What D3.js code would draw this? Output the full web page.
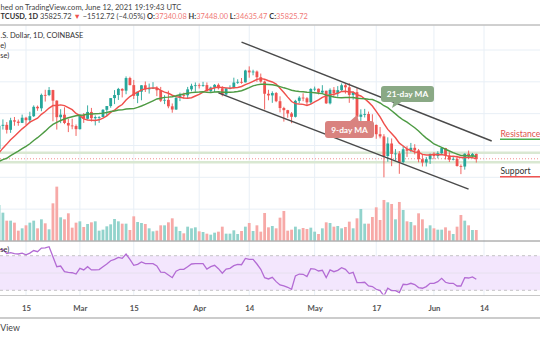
<!DOCTYPE html>
<html><head><meta charset="utf-8">
<script src="https://cdn.jsdelivr.net/npm/d3@7/dist/d3.min.js"></script>
<style>body{margin:0;background:#fff;overflow:hidden}svg{display:block}</style>
</head><body>
<svg id="c" width="540" height="340"></svg>
<script>
// ---------------- DATA ----------------
const dates = [
"02-08","02-09","02-10","02-11","02-12","02-13","02-14","02-15","02-16","02-17","02-18","02-19","02-20","02-21","02-22","02-23","02-24","02-25","02-26","02-27","02-28",
"03-01","03-02","03-03","03-04","03-05","03-06","03-07","03-08","03-09","03-10","03-11","03-12","03-13","03-14","03-15","03-16","03-17","03-18","03-19","03-20","03-21","03-22","03-23","03-24","03-25","03-26","03-27","03-28","03-29","03-30","03-31",
"04-01","04-02","04-03","04-04","04-05","04-06","04-07","04-08","04-09","04-10","04-11","04-12","04-13","04-14","04-15","04-16","04-17","04-18","04-19","04-20","04-21","04-22","04-23","04-24","04-25","04-26","04-27","04-28","04-29","04-30",
"05-01","05-02","05-03","05-04","05-05","05-06","05-07","05-08","05-09","05-10","05-11","05-12","05-13","05-14","05-15","05-16","05-17","05-18","05-19","05-20","05-21","05-22","05-23","05-24","05-25","05-26","05-27","05-28","05-29","05-30","05-31",
"06-01","06-02","06-03","06-04","06-05","06-06","06-07","06-08","06-09","06-10","06-11","06-12"];
const openP = [
38900,46196,46481,44918,47909,47504,47105,48717,47945,49199,52149,51679,55888,55841,57412,54087,48891,49676,47073,46276,46106,
45135,49631,48378,50538,48561,48927,48950,51207,52385,54884,55851,57773,57221,61188,58968,55605,56900,58912,57648,58030,58102,57351,54083,54340,52303,51293,55025,55817,55777,57635,58747,
58918,58726,58980,57059,58206,59054,57967,56031,57968,58079,59772,59984,59845,63554,62969,63229,61451,60069,56250,55725,56473,53907,51762,51094,50050,49005,54021,55033,54824,53556,
57750,57828,56631,57200,53241,57473,56428,57380,58928,58280,55883,56750,49007,49716,49880,46760,46456,43538,42850,36690,40627,37340,37484,34770,38806,38350,39266,38445,35689,34647,35684,
37310,36693,37568,39188,36856,35520,35796,33552,33380,37389,36693,37340.08];
const highP = [
46800,48200,47350,48700,48950,48150,49700,49000,50600,52600,52550,56300,57500,58352,57500,54200,51400,52000,48400,48400,46600,
49800,50200,52600,51800,49450,49200,51450,52400,54900,57400,58100,58000,61700,61600,60600,56900,58950,60100,59450,59900,58600,58400,55800,57200,53200,55100,56600,56600,58400,59400,59800,
59500,60000,59800,58500,59300,59500,58650,58100,58900,61300,60800,61200,63800,64854,63800,63550,62600,60400,57500,57000,56800,55450,52150,51200,50500,54350,55500,56400,55200,58000,
58500,57900,58950,57200,57950,58350,58650,59500,59300,59600,56900,58000,51350,51500,50650,49800,46600,45800,43550,42550,42200,38850,38250,39900,39800,40800,40400,38900,37300,36400,37500,
37900,38200,39500,39250,37900,36450,36800,34050,37550,38400,37650,37448.00];
const lowP = [
37988,45000,43750,43960,46200,46200,47050,46300,47020,48950,50900,50750,53800,55500,47600,45000,47000,46700,44200,45100,43000,
45000,47100,48100,47500,46300,47100,48900,49300,51850,53000,54300,55100,56100,58900,54600,53300,54200,56800,56300,57800,55500,53650,53000,51700,50300,51200,53950,54700,54900,57000,56900,
57900,58450,56900,56500,56800,57600,55450,55700,57650,57900,59350,59400,59800,61300,62050,60000,59700,51300,54200,53400,53600,50400,47500,48700,47000,48800,53300,53900,52400,53050,
57050,56050,56450,53050,52900,55250,55300,56950,56300,53400,54400,48600,46000,48800,46600,43800,42100,42250,30000,34900,33500,35300,31100,34400,36400,37900,37200,34700,33400,33400,34200,
35700,35950,37200,35600,34800,35300,33350,31000,32400,35800,35950,34635.47];
const closeP = [
46196,46481,44918,47909,47504,47105,48717,47945,49199,52149,51679,55888,55841,57412,54087,48891,49676,47073,46276,46106,45135,
49631,48378,50538,48561,48927,48950,51207,52385,54884,55851,57773,57221,61188,58968,55605,56900,58912,57648,58030,58102,57351,54083,54340,52303,51293,55025,55817,55777,57635,58747,58918,
58726,58980,57059,58206,59054,57967,56031,57968,58079,59772,59984,59845,63554,62969,63229,61451,60069,56250,55725,56473,53907,51762,51094,50050,49005,54021,55033,54824,53556,57750,
57828,56631,57200,53241,57473,56428,57380,58928,58280,55883,56750,49007,49716,49880,46760,46456,43538,42850,36690,40627,37340,37484,34770,38806,38350,39266,38445,35689,34647,35684,37310,
36693,37568,39188,36856,35520,35796,33552,33380,37389,36693,37340.08,35825.72];
// closes of the 20 sessions before the first visible candle (needed for the moving averages)
const priorCloses = [35830,35480,30830,33000,32080,32270,32260,32500,30400,33400,34300,34300,33110,33540,35510,37470,36930,38140,39270,38900];
const volume = [
32400,25500,18300,18300,16500,9300,11400,14100,16500,18300,11400,19500,15900,10500,33900,48900,21300,19500,24900,12000,16500,
17700,12600,15300,16800,17700,9300,10200,13200,15000,19800,17700,15600,15600,9900,22200,17100,16200,15300,11400,8700,9300,14100,14100,16800,20400,12900,9000,6900,12900,11400,12300,
8700,8100,6600,5700,7500,8400,12900,6600,6600,9600,6300,9000,12900,16200,9000,14100,8400,25200,12300,13500,11400,21000,27000,9300,10200,12900,10500,11700,10800,12000,
8400,6300,11400,16800,16200,12900,13500,11400,12600,17400,11400,20400,28800,15600,15600,21600,30300,18900,36900,34800,33300,19500,35100,27900,17700,17100,14100,24900,19500,11400,14100,
11400,10200,10200,12300,9300,6300,12900,23400,18300,14100,9900,9900];
const rsi = [
77,77,72.5,73.5,72.5,72,73,71,73,76, 74.6,78.8,79,80.4,68.9,57.3,58,51.5,50.8,50.3,
48.8,55.4,53.5,57.3,53.5,53.5,53.9,57.3,60.4,64.2, 65.8,68.1,66.9,71.9,65.8,58.9,60,62.7,60.8,60.8,
60.8,58.1,51.1,50.8,47.7,44.6,52,54.3,54.3,57.3, 60.4,60.8,60.8,60.8,54.6,57.3,58.9,55,49.7,54.6,
55.4,58.5,60,59.6,66.9,65.8,65.8,60.4,54.3,44.6, 43.1,45,40,36.2,35,33.5,31.2,46.6,48.8,48.5,
45.8,55,54.6,52.3,53.1,44.6,53.5,51.5,53.1,56.2, 54.3,49.3,50.8,38.9,38.9,39.3,35,34.3,31.2,29.7,
23.5,32.4,29.7,29.7,27.4,37,36.6,38.1,36.6,33.1, 32.4,34.3,38.1,38.1,40,43.9,39.3,38.1,38.1,35,
35,44.6,44.2,45.4,42.7];
const tickDates = ["2021-02-15","2021-03-01","2021-03-15","2021-04-01","2021-04-14","2021-05-01","2021-05-17","2021-06-01","2021-06-14"];
const tickLabels = ["15","Mar","15","Apr","14","May","17","Jun","14"];
const priceGrid = [20000,30000,40000,50000,60000,70000];
// channel drawn on the chart: [date, price] endpoints
const channelUpper = [["2021-04-12",72500],["2021-06-16",41400]];
const channelLower = [["2021-04-06",56500],["2021-06-10",26300]];
const bandLevels = [37700,34750];
const maPeriods = [9,21];
// visible parts of the header / pane texts (the screenshot is cropped at its left edge)
const headerLine1 = "hed on TradingView.com, June 12, 2021 19:19:43 UTC";
const headerLine2 = [
  ["TCUSD, 1D ", "#333", "bold"], ["35825.72 ", "#444", "normal"], ["▼ ", "#ef5350", "normal"],
  ["−1512.72 (−4.05%) ", "#444", "normal"], ["O:", "#333", "bold"], ["37340.08 ", "#f07a78", "normal"],
  ["H:", "#333", "bold"], ["37448.00 ", "#f07a78", "normal"], ["L:", "#333", "bold"], ["34635.47 ", "#f07a78", "normal"],
  ["C:", "#333", "bold"], ["35825.72", "#f07a78", "normal"]];
const symbolLine = ".S. Dollar, 1D, COINBASE";
const ma9Label = "e)";
const ma21Label = "se)";
const rsiLabel = "se)";
const brandText = "View";

// ---------------- SETUP ----------------
const svg = d3.select("#c");
const W = 540;
const FONT = "Lato, 'Liberation Sans', Arial, sans-serif";
const parse = d3.utcParse("%Y-%m-%d");
const days = dates.map(d => parse("2021-" + d));

const x = d3.scaleUtc().domain([parse("2021-02-15"), parse("2021-06-14")]).range([26, 484]);
const y = d3.scaleLinear().domain([30000, 70000]).range([177.3, 50]);
const yv = d3.scaleLinear().domain([0, 60000]).range([241, 174.3]);
const yr = d3.scaleLinear().domain([30, 70]).range([290.3, 255.7]);

const GREEN = "#26a69a", RED = "#ef5350";
const VGREEN = "#92d3cc", VRED = "#f7a9a7";
const GRID = "#e8eff6";

const defs = svg.append("defs");
defs.append("clipPath").attr("id","main").append("rect").attr("x",0).attr("y",25.5).attr("width",W).attr("height",215);
defs.append("clipPath").attr("id","rsi").append("rect").attr("x",0).attr("y",241.5).attr("width",W).attr("height",53);

// ---------------- GRID ----------------
const grid = svg.append("g");
const tickD = tickDates.map(parse);
grid.selectAll("line.v").data(tickD).join("line")
  .attr("x1", d => x(d)).attr("x2", d => x(d)).attr("y1", 25.5).attr("y2", 295)
  .attr("stroke", GRID).attr("stroke-width", 1);
grid.selectAll("line.h").data(priceGrid).join("line")
  .attr("x1", 0).attr("x2", W).attr("y1", d => y(d)).attr("y2", d => y(d))
  .attr("stroke", GRID).attr("stroke-width", 1);

// ---------------- MAIN PANE ----------------
const main = svg.append("g").attr("clip-path","url(#main)");
main.selectAll("line.band").data(bandLevels).join("line")
  .attr("x1",0).attr("x2",W).attr("y1",d=>y(d)).attr("y2",d=>y(d))
  .attr("stroke","#d9e8d2").attr("stroke-width",2.4);
main.append("line").attr("x1",0).attr("x2",W)
  .attr("y1", y(closeP[closeP.length-1])).attr("y2", y(closeP[closeP.length-1]))
  .attr("stroke", RED).attr("stroke-width",0.8).attr("stroke-dasharray","1,2").attr("opacity",0.8);

const bw = 2.8;
main.selectAll("rect.vol").data(days).join("rect")
  .attr("x", (d,i) => x(d) - bw/2).attr("width", bw)
  .attr("y", (d,i) => yv(volume[i])).attr("height", (d,i) => yv(0) - yv(volume[i]))
  .attr("fill", (d,i) => closeP[i] >= openP[i] ? VGREEN : VRED);

const cg = main.append("g");
cg.selectAll("line.wick").data(days).join("line")
  .attr("x1", d => x(d)).attr("x2", d => x(d))
  .attr("y1", (d,i) => y(highP[i])).attr("y2", (d,i) => y(lowP[i]))
  .attr("stroke", (d,i) => closeP[i] >= openP[i] ? GREEN : RED).attr("stroke-width", 0.9);
cg.selectAll("rect.body").data(days).join("rect")
  .attr("x", d => x(d) - bw/2).attr("width", bw)
  .attr("y", (d,i) => y(Math.max(openP[i], closeP[i])))
  .attr("height", (d,i) => Math.max(0.8, Math.abs(y(openP[i]) - y(closeP[i]))))
  .attr("fill", (d,i) => closeP[i] >= openP[i] ? GREEN : RED);

const allCloses = priorCloses.concat(closeP);
function sma(n) {
  return closeP.map((c, i) => {
    const k = i + priorCloses.length;
    return d3.mean(allCloses.slice(k - n + 1, k + 1));
  });
}
const maColors = ["#f0504c", "#4e9b44"];
maPeriods.forEach((n, j) => {
  const vals = sma(n);
  main.append("path").datum(vals)
    .attr("fill","none").attr("stroke", maColors[j]).attr("stroke-width", 1.45)
    .attr("d", d3.line().x((v,i) => x(days[i])).y(v => y(v)));
});

[channelUpper, channelLower].forEach(seg => {
  main.append("line")
    .attr("x1", x(parse(seg[0][0]))).attr("y1", y(seg[0][1]))
    .attr("x2", x(parse(seg[1][0]))).attr("y2", y(seg[1][1]))
    .attr("stroke", "#4a4a4a").attr("stroke-width", 1.4);
});

function callout(cx0, cy0, w, h, fill, label, tail) {
  const g = svg.append("g");
  g.append("path").attr("d", d3.line()(tail)).attr("fill", fill);
  g.append("rect").attr("x", cx0).attr("y", cy0).attr("width", w).attr("height", h)
    .attr("rx", 3).attr("fill", fill);
  g.append("text").attr("x", cx0 + w/2).attr("y", cy0 + h/2 + 3)
    .attr("text-anchor","middle").attr("fill","#fff").attr("font-family", FONT)
    .attr("font-weight","bold").attr("font-size", 8.3).text(label);
}
callout(381, 86, 53, 16, "#8aa985", "21-day MA", [[394,101],[403,101],[392,108]]);
callout(325, 121, 49, 17, "#d9827f", "9-day MA", [[349,122],[359,122],[357,115]]);

svg.append("text").attr("x", 500.5).attr("y", 136.5).attr("fill","#e0504c")
  .attr("font-family", FONT).attr("font-size", 8.6).text("Resistance");
svg.append("line").attr("x1",500).attr("x2",W).attr("y1",139.3).attr("y2",139.3).attr("stroke","#4caf50").attr("stroke-width",1.5);
svg.append("text").attr("x", 500.5).attr("y", 173.5).attr("fill","#333")
  .attr("font-family", FONT).attr("font-size", 8.6).text("Support");
svg.append("line").attr("x1",500).attr("x2",W).attr("y1",176.8).attr("y2",176.8).attr("stroke",RED).attr("stroke-width",1.5);

svg.append("line").attr("x1",0).attr("x2",W).attr("y1",241).attr("y2",241).attr("stroke","#8a8a8a").attr("stroke-width",1);

// ---------------- RSI PANE ----------------
const rg = svg.append("g").attr("clip-path","url(#rsi)");
rg.append("rect").attr("x",0).attr("width",W).attr("y", yr(70)).attr("height", yr(30)-yr(70)).attr("fill","#f3e6fd");
rg.append("line").attr("x1",0).attr("x2",W).attr("y1",yr(50)).attr("y2",yr(50)).attr("stroke","#e6e0ee").attr("stroke-width",1);
[70,30].forEach(v => rg.append("line").attr("x1",0).attr("x2",W).attr("y1",yr(v)).attr("y2",yr(v))
  .attr("stroke","#b5b5b5").attr("stroke-width",0.8).attr("stroke-dasharray","3,3"));
rg.append("path").datum(rsi).attr("fill","none").attr("stroke","#b36bd4").attr("stroke-width",1.3)
  .attr("d", d3.line().x((v,i)=>x(days[i])).y(v=>yr(v)));

// bottom axis
svg.append("line").attr("x1",0).attr("x2",W).attr("y1",295.5).attr("y2",295.5).attr("stroke","#c8c8c8").attr("stroke-width",1);
svg.append("line").attr("x1",0).attr("x2",W).attr("y1",318).attr("y2",318).attr("stroke","#999").attr("stroke-width",1.2);
const axisG = svg.append("g").attr("transform","translate(0,296)")
  .call(d3.axisBottom(x).tickValues(tickD).tickFormat((d,i)=>tickLabels[i]).tickSize(0).tickPadding(9));
axisG.select(".domain").remove();
axisG.selectAll("text").attr("font-family", FONT).attr("font-size", 7.8).attr("fill","#555").attr("font-weight","bold");

svg.append("line").attr("x1",0).attr("x2",W).attr("y1",25).attr("y2",25).attr("stroke","#a0a0a0").attr("stroke-width",1);

// ---------------- TEXTS ----------------
function fitWidth(sel, visW) {
  const fs0 = parseFloat(sel.attr("font-size"));
  const w = sel.node().getComputedTextLength();
  const fs = fs0 * visW / w;
  sel.attr("font-size", fs);
  return fs;
}
const t1 = svg.append("text").attr("x", 0.5).attr("y", 9.5).attr("font-family", FONT).attr("font-size", 8).attr("fill","#444").text(headerLine1);
fitWidth(t1, 181);
const t2 = svg.append("text").attr("x", 0.5).attr("y", 19.3).attr("font-family", FONT).attr("font-size", 8).attr("fill","#444");
headerLine2.forEach(p => t2.append("tspan").attr("fill", p[1]).attr("font-weight", p[2]).text(p[0]));
fitWidth(t2, 308);
const t3 = svg.append("text").attr("x", 0.5).attr("y", 37.5).attr("font-family", FONT).attr("font-size", 8).attr("fill","#333").text(symbolLine);
const fs3 = fitWidth(t3, 83);
svg.append("text").attr("x", 0.3).attr("y", 48).attr("font-family", FONT).attr("font-size", fs3).attr("fill","#333").text(ma9Label);
svg.append("text").attr("x", 0.3).attr("y", 58.3).attr("font-family", FONT).attr("font-size", fs3).attr("fill","#333").text(ma21Label);
svg.append("text").attr("x", 0.3).attr("y", 252).attr("font-family", FONT).attr("font-size", fs3).attr("fill","#333").text(rsiLabel);
svg.append("text").attr("x", 0.3).attr("y", 331).attr("font-family", FONT).attr("font-size", 8.8).attr("fill","#444").text(brandText);
</script>
</body></html>
